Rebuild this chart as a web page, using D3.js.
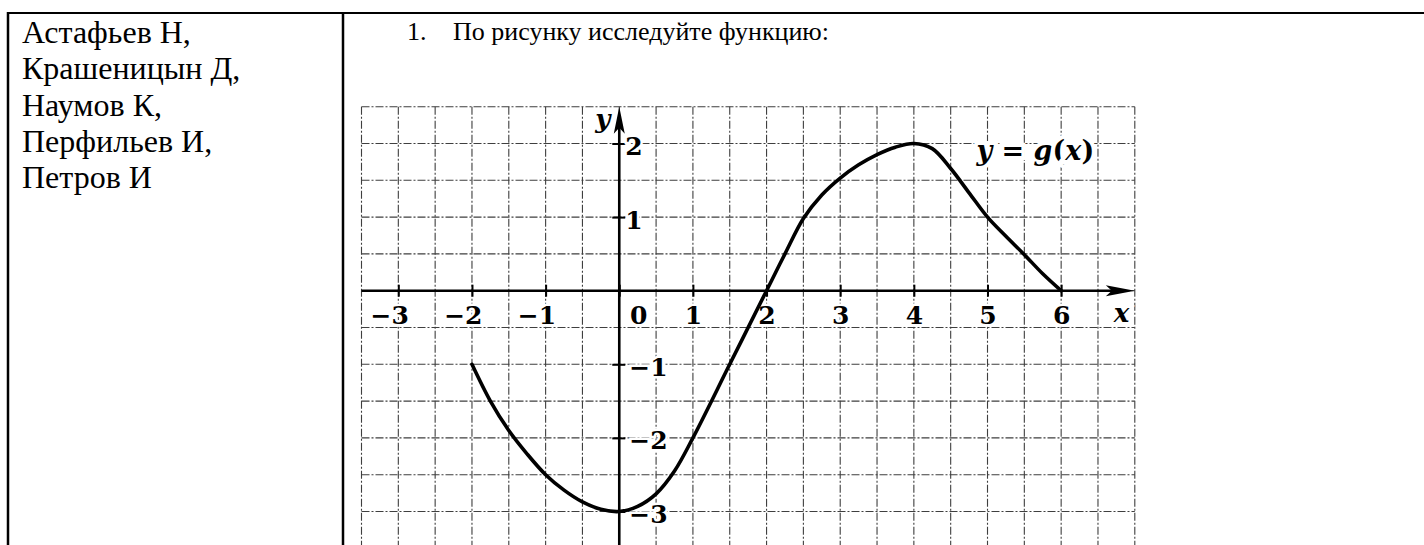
<!DOCTYPE html>
<html>
<head>
<meta charset="utf-8">
<script src="https://cdn.jsdelivr.net/npm/d3@7"></script>
<style>
  body { margin: 0; background: #fff; }
  svg { display: block; }
</style>
</head>
<body>
<svg id="page" width="1424" height="545"></svg>
<script>
// names in the left cell
var names = ['Астафьев Н,', 'Крашеницын Д,', 'Наумов К,', 'Перфильев И,', 'Петров И']
var taskNum = '1.'
var taskText = 'По рисунку исследуйте функцию:'

// axis ticks
var xTicks = [-3, -2, -1, 0, 1, 2, 3, 4, 5, 6]
var yTicks = [2, 1, -1, -2, -3]

// points of y = g(x)
var gx = [-2, -1.75, -1.5, -1.25, -1, -0.75, -0.5, -0.25, 0, 0.25, 0.5, 0.75, 1, 1.5, 2,
  2.25, 2.5, 2.75, 3, 3.25, 3.5, 3.75, 4, 4.25, 4.5, 4.75, 5, 5.25, 5.5, 5.75, 6]
var gy = [-1, -1.5, -1.9, -2.22, -2.5, -2.71, -2.87, -2.97, -3, -2.93, -2.76, -2.45, -2, -1, 0,
  0.5, 0.98, 1.3, 1.53, 1.71, 1.85, 1.95, 2, 1.93, 1.66, 1.33, 1, 0.74, 0.49, 0.23, 0]

var svg = d3.select('#page')
var serif = "'Liberation Serif', 'Times New Roman', serif"
var bookFont = "'DejaVu Serif', serif"

// table borders
svg.append('line').attr('x1', 7).attr('x2', 1424).attr('y1', 13).attr('y2', 13)
  .attr('stroke', '#000').attr('stroke-width', 2.2)
svg.append('line').attr('x1', 8).attr('x2', 8).attr('y1', 12).attr('y2', 545)
  .attr('stroke', '#000').attr('stroke-width', 2.5)
svg.append('line').attr('x1', 343).attr('x2', 343).attr('y1', 12).attr('y2', 545)
  .attr('stroke', '#000').attr('stroke-width', 2.5)

svg.selectAll('.name')
  .data(names)
  .enter().append('text')
  .attr('class', 'name')
  .attr('x', 22)
  .attr('y', function (d, i) { return 43 + i * 36.3 })
  .attr('font-family', serif)
  .attr('font-size', 32)
  .text(function (d) { return d })

svg.append('text').attr('x', 407).attr('y', 40)
  .attr('font-family', serif).attr('font-size', 26).text(taskNum)
svg.append('text').attr('x', 453).attr('y', 40)
  .attr('font-family', serif).attr('font-size', 26).text(taskText)

// chart
var xs = d3.scaleLinear().domain([-3.5, 7]).range([361.5, 1134.8])
var ys = d3.scaleLinear().domain([-3.5, 2.5]).range([548.3, 106.7])

var grid = svg.append('g').attr('stroke', '#1e1e1e').attr('stroke-width', 1.1)
  .attr('stroke-dasharray', '8 2 2 2').attr('opacity', 0.85)

grid.selectAll('.vl')
  .data(d3.range(-3.5, 7.01, 0.5))
  .enter().append('line')
  .attr('x1', xs).attr('x2', xs)
  .attr('y1', ys(2.5)).attr('y2', 545)

grid.selectAll('.hl')
  .data(d3.range(-3.5, 2.51, 0.5))
  .enter().append('line')
  .attr('x1', xs(-3.5)).attr('x2', xs(7))
  .attr('y1', ys).attr('y2', ys)

function styleLabels(sel) {
  sel.attr('font-family', bookFont)
    .attr('font-weight', 'bold')
    .attr('font-size', 25)
    .attr('fill', '#000')
    .attr('stroke', '#fff')
    .attr('stroke-width', 5)
    .attr('paint-order', 'stroke')
}

var fmt = d3.format('d')

var xAxis = svg.append('g')
  .attr('transform', 'translate(0,' + ys(0) + ')')
  .call(d3.axisBottom(xs).tickValues(xTicks).tickFormat(fmt).tickSize(6))
xAxis.attr('font-family', null).attr('font-size', null)
xAxis.select('.domain').remove()
xAxis.selectAll('.tick line').attr('y1', -6).attr('y2', 6).attr('stroke-width', 2)
xAxis.selectAll('.tick text')
  .attr('dy', null)
  .attr('y', 33)
  .attr('text-anchor', function (d) { return d < 0 ? 'end' : 'middle' })
  .attr('x', function (d) { return d < 0 ? 10 : (d === 0 ? 19 : 0) })
  .call(styleLabels)

var yAxis = svg.append('g')
  .attr('transform', 'translate(' + xs(0) + ',0)')
  .call(d3.axisLeft(ys).tickValues(yTicks).tickFormat(fmt).tickSize(6))
yAxis.attr('font-family', null).attr('font-size', null)
yAxis.select('.domain').remove()
yAxis.selectAll('.tick line').attr('x1', -7).attr('x2', 6).attr('stroke-width', 2)
yAxis.selectAll('.tick text')
  .attr('x', function (d) { return d > 0 ? 6 : 10 })
  .attr('dy', '0.36em')
  .attr('y', 2)
  .attr('text-anchor', 'start')
  .call(styleLabels)

// axis lines with arrows
var ax = svg.append('g').attr('fill', '#000').attr('stroke', '#000')
ax.append('line')
  .attr('x1', xs(-3.5)).attr('x2', xs(7) - 20)
  .attr('y1', ys(0)).attr('y2', ys(0))
  .attr('stroke-width', 2.6)
ax.append('path')
  .attr('stroke', 'none')
  .attr('d', 'M' + xs(7) + ',' + ys(0) +
    'L' + (xs(7) - 29) + ',' + (ys(0) - 5.5) +
    'L' + (xs(7) - 23) + ',' + ys(0) +
    'L' + (xs(7) - 29) + ',' + (ys(0) + 5.5) + 'Z')
ax.append('line')
  .attr('x1', xs(0)).attr('x2', xs(0))
  .attr('y1', 545).attr('y2', ys(2.5) + 20)
  .attr('stroke-width', 2.6)
ax.append('path')
  .attr('stroke', 'none')
  .attr('d', 'M' + xs(0) + ',' + ys(2.5) +
    'L' + (xs(0) - 5.5) + ',' + (ys(2.5) + 27) +
    'L' + xs(0) + ',' + (ys(2.5) + 21) +
    'L' + (xs(0) + 5.5) + ',' + (ys(2.5) + 27) + 'Z')

// axis names
svg.append('text').attr('x', xs(0) - 9).attr('y', 128)
  .attr('text-anchor', 'end').call(styleLabels)
  .attr('font-style', 'italic').attr('font-size', 26).text('y')
svg.append('text').attr('x', xs(6.82)).attr('y', 322)
  .attr('text-anchor', 'middle').call(styleLabels)
  .attr('font-style', 'italic').attr('font-size', 26).text('x')

// function name
var fn = svg.append('text').attr('x', xs(4.85)).attr('y', ys(1.78))
  .call(styleLabels).attr('font-size', 27).attr('stroke-width', 8)
fn.append('tspan').attr('font-style', 'italic').text('y')
fn.append('tspan').text(' = ')
fn.append('tspan').attr('font-style', 'italic').text('g')
fn.append('tspan').text('(')
fn.append('tspan').attr('font-style', 'italic').text('x')
fn.append('tspan').text(')')

// the curve
var pts = gx.map(function (d, i) { return [d, gy[i]] })
var line = d3.line()
  .x(function (d) { return xs(d[0]) })
  .y(function (d) { return ys(d[1]) })
  .curve(d3.curveCatmullRom.alpha(0.5))

svg.append('path')
  .datum(pts)
  .attr('d', line)
  .attr('fill', 'none')
  .attr('stroke', '#000')
  .attr('stroke-width', 3.6)
  .attr('stroke-linecap', 'round')
  .attr('stroke-linejoin', 'round')
</script>
</body>
</html>
